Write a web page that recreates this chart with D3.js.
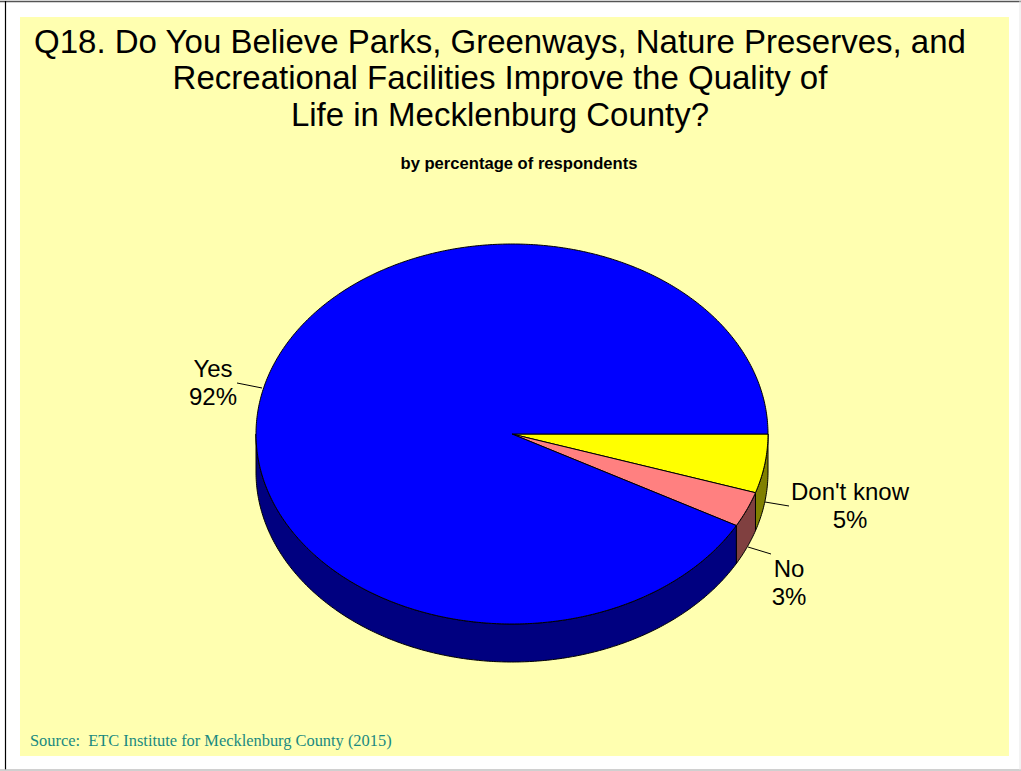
<!DOCTYPE html>
<html>
<head>
<meta charset="utf-8">
<script src="https://cdn.jsdelivr.net/npm/d3@7"></script>
<style>
  html, body { margin: 0; padding: 0; background: #ffffff; }
  svg { display: block; }
  text { white-space: pre; }
</style>
</head>
<body>
<script>
// Survey answers, in drawing order starting at 3 o'clock and running clockwise
const categories = ["Don't know", "No", "Yes"];
const values = [5, 3, 92];
const valueLabels = ["5%", "3%", "92%"];
const topColors = ["#FFFF00", "#FF8080", "#0000FF"];
const sideColors = ["#808000", "#804040", "#000080"];

const titleLines = [
  "Q18. Do You Believe Parks, Greenways, Nature Preserves, and",
  "Recreational Facilities Improve the Quality of",
  "Life in Mecklenburg County?"
];
const subtitle = "by percentage of respondents";
const sourceNote = "Source:  ETC Institute for Mecklenburg County (2015)";

const W = 1021, H = 771;
const svg = d3.select("body").append("svg").attr("width", W).attr("height", H);

// page frame
svg.append("line").attr("x1", 0).attr("x2", W).attr("y1", 1.5).attr("y2", 1.5)
  .attr("stroke", "#555").attr("stroke-width", 1.5);
svg.append("line").attr("x1", 5.5).attr("x2", 5.5).attr("y1", 1).attr("y2", 770)
  .attr("stroke", "#000").attr("stroke-width", 1.2);
svg.append("line").attr("x1", 0).attr("x2", W).attr("y1", 770).attr("y2", 770)
  .attr("stroke", "#c0c0c0").attr("stroke-width", 1.5);
svg.append("line").attr("x1", 1020).attr("x2", 1020).attr("y1", 1).attr("y2", 770)
  .attr("stroke", "#e6e6e6").attr("stroke-width", 1);

// chart area
svg.append("rect").attr("x", 20).attr("y", 17).attr("width", 989).attr("height", 739)
  .attr("fill", "#FFFFB0");

// title
const title = svg.append("text")
  .attr("font-family", "Liberation Sans, Arial, sans-serif")
  .attr("font-size", 33).attr("fill", "#000").attr("text-anchor", "middle");
const titleBaselines = [53, 89, 126];
titleLines.forEach((t, i) => {
  title.append("tspan").attr("x", 500).attr("y", titleBaselines[i]).text(t);
});

svg.append("text")
  .attr("x", 519).attr("y", 169)
  .attr("font-family", "Liberation Sans, Arial, sans-serif")
  .attr("font-size", 16.6).attr("font-weight", "bold").attr("text-anchor", "middle")
  .text(subtitle);

// 3D pie geometry
const cx = 512, cy = 434, rx = 256, ry = 190, depth = 38;
const pie = d3.pie().sort(null).value(d => d)
  .startAngle(Math.PI / 2).endAngle(Math.PI / 2 + 2 * Math.PI);
const arcs = pie(values);

const px = a => cx + rx * Math.sin(a);
const py = a => cy - ry * Math.cos(a);

function ellArc(a0, a1, dy) {
  // sample the ellipse between two angles
  const n = Math.max(2, Math.ceil(Math.abs(a1 - a0) / 0.01));
  const pts = [];
  for (let i = 0; i <= n; i++) {
    const a = a0 + (a1 - a0) * i / n;
    pts.push([px(a), py(a) + dy]);
  }
  return pts;
}

function topPath(d) {
  const pts = [[cx, cy]].concat(ellArc(d.startAngle, d.endAngle, 0));
  return d3.line()(pts) + "Z";
}

// front wall: only the part facing the viewer (angles between PI/2 and 3PI/2, mod 2PI)
function sidePath(d) {
  const segs = [];
  for (let k = -1; k <= 2; k++) {
    const w0 = Math.PI / 2 + k * 2 * Math.PI, w1 = 3 * Math.PI / 2 + k * 2 * Math.PI;
    const a0 = Math.max(d.startAngle, w0), a1 = Math.min(d.endAngle, w1);
    if (a1 > a0) {
      const top = ellArc(a0, a1, 0);
      const bottom = ellArc(a1, a0, depth);
      segs.push(d3.line()(top.concat(bottom)) + "Z");
    }
  }
  return segs.join(" ");
}

const g = svg.append("g");
g.selectAll("path.side").data(arcs).enter().append("path")
  .attr("class", "side")
  .attr("d", sidePath)
  .attr("fill", (d, i) => sideColors[i])
  .attr("stroke", "#000").attr("stroke-width", 1).attr("stroke-linejoin", "round");

g.selectAll("path.top").data(arcs).enter().append("path")
  .attr("class", "top")
  .attr("d", topPath)
  .attr("fill", (d, i) => topColors[i])
  .attr("stroke", "#000").attr("stroke-width", 1).attr("stroke-linejoin", "round");

// labels with leader lines
const labelPos = [
  { x: 850, y: 500, line: [[765, 502], [789, 506]] },
  { x: 789, y: 577, line: [[748, 547], [771, 554]] },
  { x: 213, y: 377, line: [[237, 383], [262, 388]] }
];
const lab = svg.append("g")
  .attr("font-family", "Liberation Sans, Arial, sans-serif")
  .attr("font-size", 24).attr("text-anchor", "middle").attr("fill", "#000");
arcs.forEach((d, i) => {
  const p = labelPos[i];
  svg.append("path").attr("d", d3.line()(p.line))
    .attr("stroke", "#000").attr("stroke-width", 1).attr("fill", "none");
  const t = lab.append("text");
  t.append("tspan").attr("x", p.x).attr("y", p.y).text(categories[i]);
  t.append("tspan").attr("x", p.x).attr("y", p.y + 28).text(valueLabels[i]);
});

// source note
svg.append("text")
  .attr("x", 30).attr("y", 746)
  .attr("font-family", "Liberation Serif, Times New Roman, serif")
  .attr("font-size", 16.4).attr("fill", "#1a8a80")
  .text(sourceNote);
</script>
</body>
</html>
